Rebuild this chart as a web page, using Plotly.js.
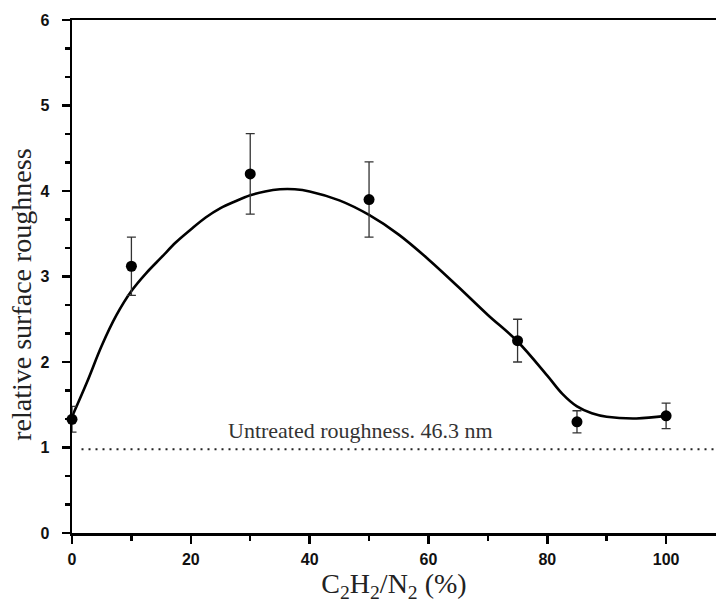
<!DOCTYPE html>
<html>
<head>
<meta charset="utf-8">
<script src="https://cdn.plot.ly/plotly-3.0.1.min.js"></script>
<style>html,body{margin:0;padding:0;background:#fff;}#chart{width:716px;height:610px;}</style>
</head>
<body>
<div id="chart"></div>
<script>
// measured points
var ratio = [0, 10, 30, 50, 75, 85, 100];
var roughness = [1.33, 3.12, 4.2, 3.9, 2.25, 1.3, 1.37];
var errors = [0.15, 0.34, 0.47, 0.44, 0.25, 0.13, 0.15];

// fitted curve
var fitX = [0, 2.5, 5, 7.5, 10, 12.5, 15, 17.5, 20, 22.5, 25, 27.5, 30, 32.5, 35, 37.5, 40, 45, 50, 55, 60, 65, 70, 75, 80, 82.5, 85, 87.5, 90, 95, 100];
var fitY = [1.36, 1.76, 2.19, 2.55, 2.83, 3.04, 3.22, 3.40, 3.55, 3.69, 3.80, 3.88, 3.95, 3.995, 4.02, 4.02, 3.995, 3.89, 3.72, 3.49, 3.2, 2.88, 2.55, 2.24, 1.84, 1.63, 1.48, 1.4, 1.36, 1.34, 1.37];

var refX = [1.6, 108.4];
var refY = [0.98, 0.98];
var refLabel = 'Untreated roughness. 46.3 nm';
var xTitle = 'C<sub>2</sub>H<sub>2</sub>/N<sub>2</sub> (%)';
var yTitle = 'relative surface roughness';

var traces = [
  {x: refX, y: refY, mode: 'lines', line: {color: '#222', width: 2, dash: '2px,5px'}, hoverinfo: 'skip', showlegend: false},
  {x: fitX, y: fitY, mode: 'lines', line: {color: '#000', width: 2.6, shape: 'spline', smoothing: 1}, showlegend: false},
  {x: ratio, y: roughness, mode: 'markers', marker: {color: '#000', size: 11},
   error_y: {type: 'data', array: errors, visible: true, color: '#333', thickness: 1.3, width: 4.5},
   cliponaxis: false, showlegend: false}
];

var tickFont = {family: 'Liberation Sans, Arial, sans-serif', size: 16, color: '#111', weight: 'bold'};
var serif = 'Liberation Serif, Times New Roman, serif';
var layout = {
  width: 716, height: 610,
  margin: {l: 72, r: 0, t: 20, b: 77},
  paper_bgcolor: '#fff', plot_bgcolor: '#fff',
  showlegend: false,
  xaxis: {
    range: [0, 108.4], tickvals: [0, 20, 40, 60, 80, 100], ticks: 'outside', ticklen: 8, tickwidth: 2.5,
    tickcolor: '#000', showline: true, linecolor: '#000', linewidth: 2.5, mirror: true,
    showgrid: false, zeroline: false, tickfont: tickFont, ticklabelstandoff: 2,
    minor: {dtick: 10, tick0: 0, ticks: 'outside', ticklen: 5, tickwidth: 2.5, tickcolor: '#000', showgrid: false},
    title: {text: xTitle, font: {family: serif, size: 28, color: '#222'}, standoff: 6}
  },
  yaxis: {
    range: [0, 6], tickvals: [0, 1, 2, 3, 4, 5, 6], ticks: 'outside', ticklen: 8, tickwidth: 2.5,
    tickcolor: '#000', showline: true, linecolor: '#000', linewidth: 2.5, mirror: false,
    showgrid: false, zeroline: false, tickfont: tickFont, ticklabelstandoff: 9,
    minor: {dtick: 1/3, tick0: 0, ticks: 'outside', ticklen: 5, tickwidth: 2.5, tickcolor: '#000', showgrid: false}
  },
  annotations: [
    {x: 48.6, y: 1.2, xref: 'x', yref: 'y', text: refLabel, showarrow: false,
     font: {family: serif, size: 22, color: '#333'}},
    {x: -0.078, y: 0.464, xref: 'paper', yref: 'paper', text: yTitle, textangle: -90, showarrow: false,
     xanchor: 'center', yanchor: 'middle', font: {family: serif, size: 28, color: '#222'}}
  ]
};
Plotly.newPlot('chart', traces, layout, {displayModeBar: false, staticPlot: true});
</script>
</body>
</html>
